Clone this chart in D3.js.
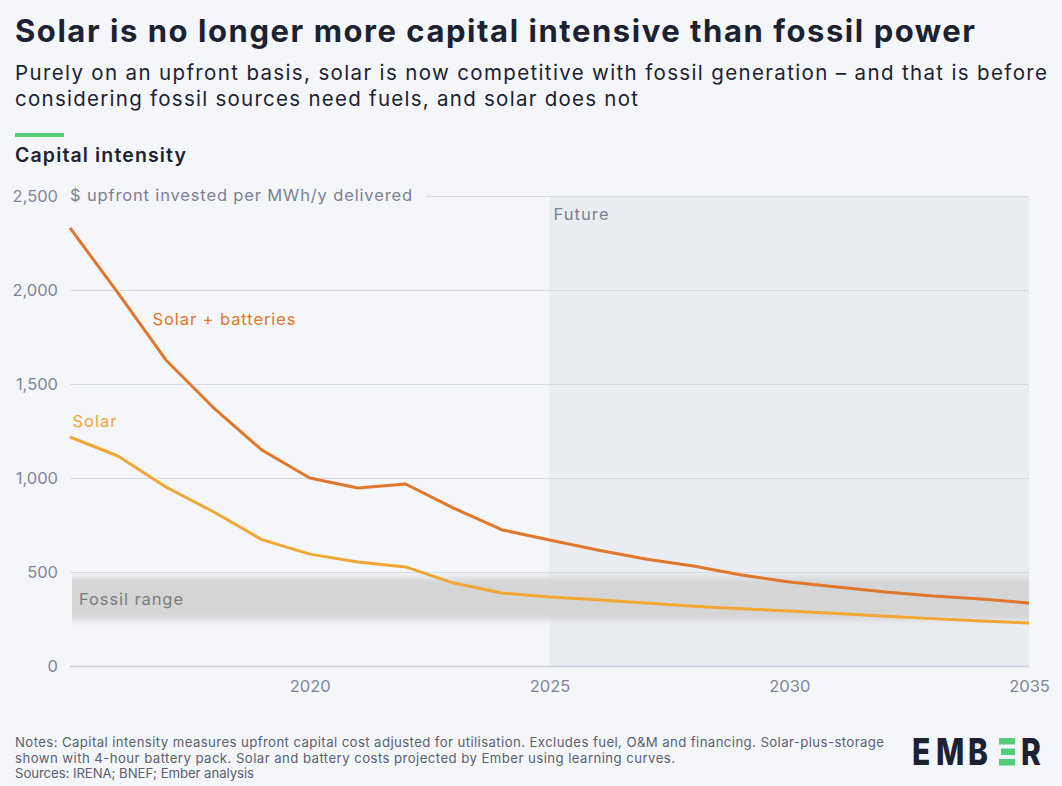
<!DOCTYPE html>
<html>
<head>
<meta charset="utf-8">
<script src="https://cdn.jsdelivr.net/npm/d3@7"></script>
<style>
  html, body { margin: 0; padding: 0; background: #f4f6fa; }
  svg { display: block; font-family: Inter, "Open Sans", sans-serif; }
</style>
</head>
<body>
<svg id="chart"></svg>
<script>
// data
const years = [2015, 2016, 2017, 2018, 2019, 2020, 2021, 2022, 2023, 2024, 2025,
  2026, 2027, 2028, 2029, 2030, 2031, 2032, 2033, 2034, 2035];
const solarBatteries = [2330, 1985, 1628, 1372, 1149, 1000, 947, 968, 840, 725, 670,
  617, 569, 532, 484, 447, 420, 394, 372, 356, 335];
const solar = [1218, 1117, 952, 819, 672, 595, 553, 527, 441, 388, 367,
  352, 335, 318, 305, 293, 279, 265, 252, 240, 229];
const fossilRange = [243, 472];
const futureStart = 2025;
const yTicks = [0, 500, 1000, 1500, 2000, 2500];
const xTicks = [2020, 2025, 2030, 2035];

const W = 1062, H = 786;
const margin = { top: 196, right: 33, bottom: 120, left: 70 };

const svg = d3.select('#chart')
  .attr('width', W)
  .attr('height', H);

// stretch a text to a given width with letter spacing (the original font is wider)
function fit(sel, width) {
  sel.each(function (d) {
    const w = typeof width === 'function' ? width(d) : width;
    const len = this.getComputedTextLength();
    const n = this.textContent.length;
    if (n > 1) d3.select(this).attr('letter-spacing', (w - len) / (n - 1));
  });
  return sel;
}

svg.append('rect').attr('width', W).attr('height', H).attr('fill', '#f4f6fa');

const defs = svg.append('defs');
defs.append('filter')
  .attr('id', 'blurY')
  .attr('x', '0').attr('width', '1')
  .attr('y', '-50%').attr('height', '200%')
  .append('feGaussianBlur')
  .attr('stdDeviation', '0 3.2');

const x = d3.scaleLinear()
  .domain([2015, 2035])
  .range([margin.left, W - margin.right]);

const y = d3.scaleLinear()
  .domain([0, 2500])
  .range([H - margin.bottom, margin.top]);

// header
svg.append('text')
  .attr('x', 15).attr('y', 42)
  .attr('font-size', 31).attr('font-weight', 700)
  .attr('fill', '#1c2232')
  .text('Solar is no longer more capital intensive than fossil power')
  .call(fit, 960);

const sub = ['Purely on an upfront basis, solar is now competitive with fossil generation \u2013 and that is before',
  'considering fossil sources need fuels, and solar does not'];
svg.append('g').selectAll('text')
  .data(sub).join('text')
  .attr('x', 15).attr('y', (d, i) => 80 + i * 26)
  .attr('font-size', 20.5)
  .attr('fill', '#1c2232')
  .text(d => d)
  .call(fit, (d, i) => d.startsWith('Purely') ? 1032 : 623);

svg.append('rect')
  .attr('x', 15).attr('y', 133).attr('width', 49).attr('height', 4)
  .attr('fill', '#54cc78');

svg.append('text')
  .attr('x', 15).attr('y', 162)
  .attr('font-size', 19.5).attr('font-weight', 600)
  .attr('fill', '#1c2232')
  .text('Capital intensity')
  .call(fit, 171);

// future shading
svg.append('rect')
  .attr('x', x(futureStart)).attr('y', y(2500))
  .attr('width', x(2035) - x(futureStart))
  .attr('height', y(0) - y(2500))
  .attr('fill', '#eaedf2');

svg.append('text')
  .attr('x', x(futureStart) + 4).attr('y', y(2500) + 24)
  .attr('font-size', 16.5).attr('fill', '#7b8193')
  .text('Future')
  .call(fit, 55);

// grid
const yAxis = d3.axisLeft(y)
  .tickValues(yTicks)
  .tickSize(-(x(2035) - x(2015)))
  .tickFormat(d3.format(','));

const gy = svg.append('g')
  .attr('transform', `translate(${margin.left},0)`)
  .call(yAxis);
gy.select('.domain').remove();
gy.selectAll('.tick line').attr('stroke', '#d6dae2').attr('stroke-width', 1);
gy.selectAll('.tick text')
  .attr('x', -12)
  .attr('font-size', 16.5)
  .attr('font-family', 'Inter, sans-serif')
  .attr('fill', '#80869a');
gy.selectAll('.tick')
  .filter(d => d === 2500)
  .select('line')
  .attr('x1', 356);
gy.selectAll('.tick')
  .filter(d => d === 0)
  .select('line')
  .attr('stroke', '#c9ceda').attr('stroke-width', 1.5);

svg.append('text')
  .attr('x', margin.left).attr('y', y(2500))
  .attr('dy', '0.32em')
  .attr('font-size', 16.5).attr('fill', '#7b8193')
  .text('$ upfront invested per MWh/y delivered')
  .call(fit, 342);

// fossil band
svg.append('rect')
  .attr('x', x(2015) + 2).attr('y', y(fossilRange[1]))
  .attr('width', x(2035) - x(2015) - 2)
  .attr('height', y(fossilRange[0]) - y(fossilRange[1]))
  .attr('fill', '#d5d5d5')
  .attr('filter', 'url(#blurY)');

svg.append('text')
  .attr('x', x(2015) + 9).attr('y', y(d3.mean(fossilRange)))
  .attr('dy', '0.35em')
  .attr('font-size', 16.5).attr('fill', '#7a7c82')
  .text('Fossil range')
  .call(fit, 104);

// x axis
const xAxis = d3.axisBottom(x)
  .tickValues(xTicks)
  .tickSize(0)
  .tickFormat(d3.format('d'));

const gx = svg.append('g')
  .attr('transform', `translate(0,${y(0)})`)
  .call(xAxis);
gx.select('.domain').remove();
gx.selectAll('.tick text')
  .attr('dy', '1.4em')
  .attr('font-size', 16.5)
  .attr('font-family', 'Inter, sans-serif')
  .attr('fill', '#80869a');

// lines
const line = d3.line()
  .x((d, i) => x(years[i]))
  .y(d => y(d));

const series = [
  { name: 'Solar + batteries', values: solarBatteries, color: '#e0772b', lx: 2016.72, ly: 1845, w: 143 },
  { name: 'Solar', values: solar, color: '#f2a734', lx: 2015.05, ly: 1300, w: 44 }
];

svg.append('g').selectAll('path')
  .data(series).join('path')
  .attr('d', d => line(d.values))
  .attr('fill', 'none')
  .attr('stroke', d => d.color)
  .attr('stroke-width', 3)
  .attr('stroke-linejoin', 'round');

svg.append('g').selectAll('text')
  .data(series).join('text')
  .attr('x', d => x(d.lx)).attr('y', d => y(d.ly))
  .attr('dy', '0.35em')
  .attr('font-size', 16.5)
  .attr('fill', d => d.color)
  .text(d => d.name)
  .call(fit, d => d.w);

// notes
const notes = ['Notes: Capital intensity measures upfront capital cost adjusted for utilisation. Excludes fuel, O&M and financing. Solar-plus-storage',
  'shown with 4-hour battery pack. Solar and battery costs projected by Ember using learning curves.',
  'Sources: IRENA; BNEF; Ember analysis'];
const noteWidths = [869, 660, 239];
svg.append('g').selectAll('text')
  .data(notes).join('text')
  .attr('x', 15).attr('y', (d, i) => 747 + i * 15.5)
  .attr('font-size', 13.2)
  .attr('fill', '#5a6173')
  .text(d => d)
  .call(fit, d => noteWidths[notes.indexOf(d)]);

// logo, squeezed horizontally like the wordmark
const sx = 0.8;
const logo = svg.append('g').attr('transform', `translate(912,765) scale(${sx},1)`);
const letters = [['E', 0], ['M', 24], ['B', 56], ['R', 109]];
logo.selectAll('text')
  .data(letters).join('text')
  .attr('x', d => d[1] / sx).attr('y', 0)
  .attr('font-size', 37.5).attr('font-weight', 800)
  .attr('fill', '#1c2232')
  .text(d => d[0]);
[0, 1, 2].forEach(i => {
  logo.append('rect')
    .attr('x', (i === 1 ? 89 : 87) / sx).attr('y', -27 + i * 10.5)
    .attr('width', (i === 1 ? 14 : 16) / sx).attr('height', 6.5)
    .attr('fill', '#54cc78');
});
</script>
</body>
</html>
